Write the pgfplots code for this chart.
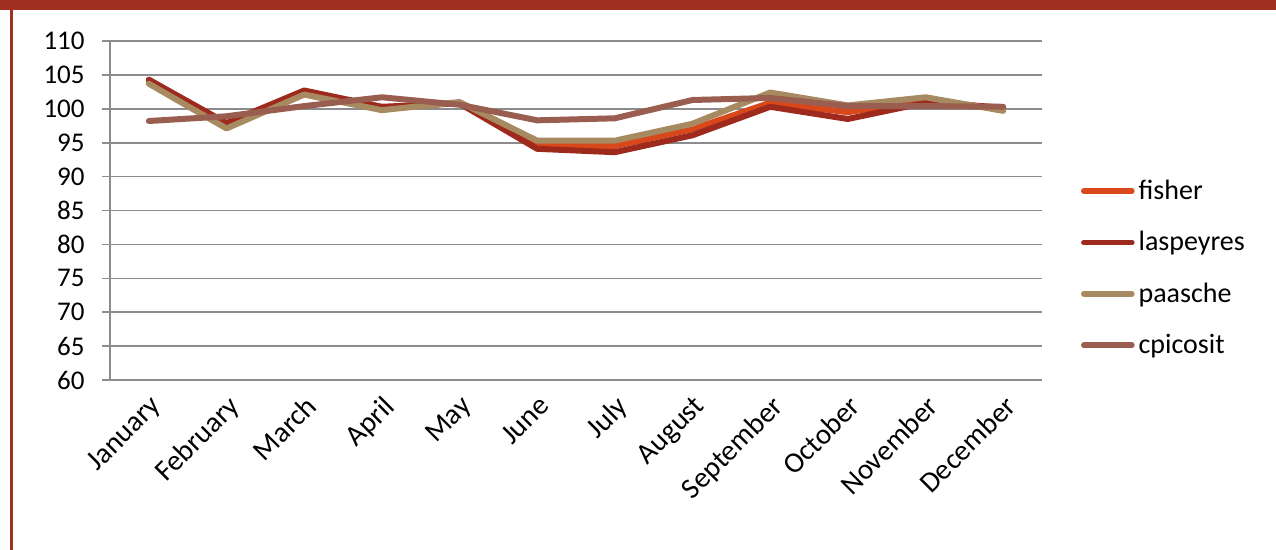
\documentclass[border=0pt]{standalone}
\usepackage{pgfplots}
\pgfplotsset{compat=1.18}
\usepackage{fontspec}
\setmainfont{Carlito}
\definecolor{fisherc}{HTML}{D9481A}
\definecolor{lasc}{HTML}{9E2A1E}
\definecolor{paac}{HTML}{A88A62}
\definecolor{cpic}{HTML}{9A5E50}
\definecolor{framec}{HTML}{A0301F}
\definecolor{gridc}{HTML}{8C8C8C}
\begin{document}
\begin{tikzpicture}
\useasboundingbox (0,0) rectangle (638pt,-275pt);
\fill[framec] (0,0) rectangle (638pt,-5pt);
\fill[framec] (5pt,0) rectangle (6.5pt,-275pt);
\begin{axis}[at={(55pt,-190pt)}, anchor=south west, scale only axis,
  width=466pt, height=169.5pt,
  xmin=-0.5, xmax=11.5, ymin=60, ymax=110, ytick={60,65,...,110},
  xtick={0,...,11},
  xticklabels={January,February,March,April,May,June,July,August,September,October,November,December},
  axis x line=bottom, axis y line=left, axis line style={draw=gridc, line width=0.8pt, -},
  ymajorgrids, grid style={gridc, line width=0.8pt},
  tick align=outside, major tick length=4pt,
  major x tick style={draw=none},
  y tick style={gridc, line width=0.8pt},
  extra x ticks={-0.5,0.5,...,11.5}, extra x tick labels={},
  extra x tick style={grid=none, major tick length=4pt, tick style={draw=gridc, line width=0.8pt}},
  /pgf/number format/assume math mode=true,
  tick label style={font=\fontsize{13.5}{16}\selectfont},
  xticklabel style={rotate=45, anchor=north east, inner sep=2pt, font=\fontsize{14.5}{16}\selectfont},
  yticklabel style={inner sep=2pt, xshift=-6.5pt},
  legend style={at={(1.035,0.33)}, anchor=west, draw=none, fill=none,
    font=\fontsize{14}{16}\selectfont, row sep=10.5pt},
  legend cell align=left,
  legend image code/.code={\draw[#1, line width=2.8pt, line cap=round] (0pt,0pt) -- (24pt,0pt);},
  every axis plot/.append style={line width=3pt, line cap=round, line join=round, mark=none},
  clip=false,
]
\addplot[fisherc] coordinates {(0,104.0) (1,97.5) (2,102.4) (3,100.0) (4,100.9) (5,94.6) (6,94.5) (7,97.0) (8,100.9) (9,99.5) (10,101.3) (11,100.0)};
\addlegendentry{fisher}
\addplot[lasc] coordinates {(0,104.3) (1,97.9) (2,102.7) (3,100.3) (4,100.8) (5,94.1) (6,93.6) (7,96.1) (8,100.3) (9,98.5) (10,100.9) (11,100.2)};
\addlegendentry{laspeyres}
\addplot[paac] coordinates {(0,103.7) (1,97.1) (2,102.1) (3,99.8) (4,101.0) (5,95.3) (6,95.3) (7,97.8) (8,102.4) (9,100.5) (10,101.7) (11,99.7)};
\addlegendentry{paasche}
\addplot[cpic] coordinates {(0,98.2) (1,98.9) (2,100.4) (3,101.7) (4,100.6) (5,98.3) (6,98.6) (7,101.3) (8,101.6) (9,100.4) (10,100.4) (11,100.3)};
\addlegendentry{cpicosit}
\end{axis}
\end{tikzpicture}
\end{document}
